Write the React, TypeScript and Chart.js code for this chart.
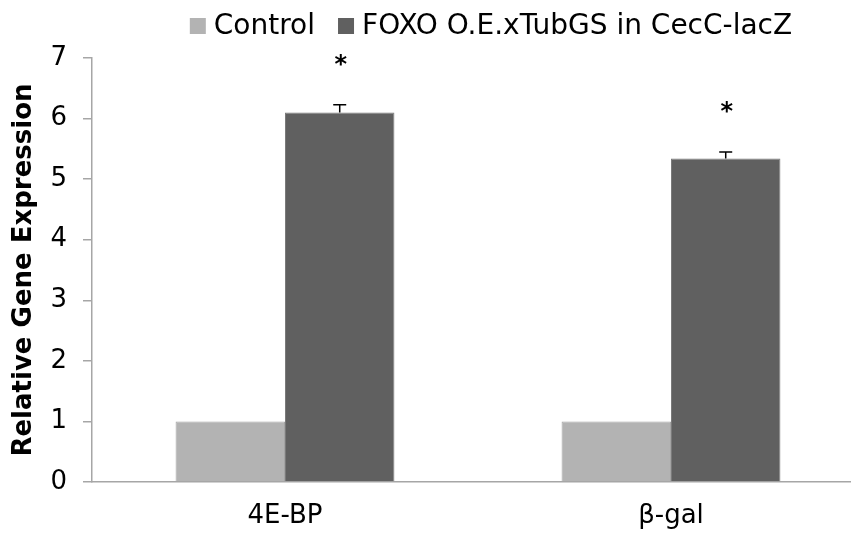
import { useEffect, useRef } from "react";
import { Chart, registerables } from "chart.js";

Chart.register(...registerables);

// Genes measured by qPCR
const genes = ["4E-BP", "β-gal"];
// Series names
const seriesNames = ["Control", "FOXO O.E.xTubGS in CecC-lacZ"];
// Relative expression (control normalised to 1)
const controlExpression = [1, 1];
const foxoExpression = [6.1, 5.34];
// Standard error of the FOXO group (upper bars only)
const foxoError = [0.13, 0.11];
// Significance markers above the FOXO bars
const significance = ["*", "*"];
// Value axis range
const yMin = 0;
const yMax = 7;
const yStep = 1;

const FONT = '"DejaVu Sans", Verdana, sans-serif';
const TEXT = "#000000";
const AXIS = "#a6a6a6";
const LIGHT = "#b3b3b3";
const DARK = "#606060";

// Upper error bars plus significance asterisks on the FOXO series
const errorBarPlugin = {
  id: "errorBars",
  afterDatasetsDraw(chart: any) {
    const { ctx, scales } = chart;
    const meta = chart.getDatasetMeta(1);
    ctx.save();
    meta.data.forEach((bar: any, i: number) => {
      const x = bar.x;
      const yBar = scales.y.getPixelForValue(foxoExpression[i]);
      const yTop = scales.y.getPixelForValue(foxoExpression[i] + foxoError[i]);
      ctx.strokeStyle = "#000";
      ctx.lineWidth = 1.5;
      ctx.beginPath();
      ctx.moveTo(x, yBar);
      ctx.lineTo(x, yTop);
      ctx.moveTo(x - 6.5, yTop);
      ctx.lineTo(x + 6.5, yTop);
      ctx.stroke();

      const mark = significance[i];
      if (mark) {
        ctx.font = `bold 24px ${FONT}`;
        ctx.fillStyle = TEXT;
        ctx.textAlign = "center";
        ctx.textBaseline = "alphabetic";
        const m = ctx.measureText(mark);
        const cy = yTop - 45;
        const base = cy + (m.actualBoundingBoxAscent - m.actualBoundingBoxDescent) / 2;
        ctx.fillText(mark, x + 1, base);
      }
    });
    ctx.restore();
  },
};

// Horizontal legend row across the top
const legendPlugin = {
  id: "topLegend",
  afterDraw(chart: any) {
    const { ctx } = chart;
    const box = 16;
    const gap = 8;
    const itemGap = 23;
    const centerX = 491;
    const boxY = 18;
    ctx.save();
    ctx.font = `28px ${FONT}`;
    const widths = chart.data.datasets.map((d: any) => ctx.measureText(d.label).width);
    const total = widths.reduce((s: number, w: number) => s + box + gap + w, 0) + itemGap * (widths.length - 1);
    let x = centerX - total / 2;
    chart.data.datasets.forEach((d: any, i: number) => {
      ctx.fillStyle = d.backgroundColor;
      ctx.fillRect(x, boxY, box, box);
      ctx.fillStyle = TEXT;
      ctx.textAlign = "left";
      ctx.textBaseline = "alphabetic";
      ctx.fillText(d.label, x + box + gap, 33.5);
      x += box + gap + widths[i] + itemGap;
    });
    ctx.restore();
  },
};

export default function App() {
  const canvasRef = useRef<HTMLCanvasElement | null>(null);

  useEffect(() => {
    if (!canvasRef.current) return;
    Chart.defaults.font.family = FONT;
    const chart = new Chart(canvasRef.current, {
      type: "bar",
      data: {
        labels: genes,
        datasets: [
          {
            label: seriesNames[0],
            data: controlExpression,
            backgroundColor: LIGHT,
            borderColor: "#a4a4a4",
            borderWidth: 1,
          },
          {
            label: seriesNames[1],
            data: foxoExpression,
            backgroundColor: DARK,
            borderColor: "#7a7a7a",
            borderWidth: 1,
          },
        ],
      },
      options: {
        animation: false,
        responsive: true,
        maintainAspectRatio: false,
        layout: { padding: { top: 58, left: 0, right: 0, bottom: 0 } },
        datasets: { bar: { categoryPercentage: 0.567, barPercentage: 1 } },
        plugins: {
          legend: { display: false },
          tooltip: { enabled: false },
        },
        scales: {
          x: {
            grid: { display: false, drawTicks: false },
            border: { display: true, color: AXIS, width: 1.5 },
            ticks: { color: TEXT, padding: 19, font: { size: 26, family: FONT } },
            afterFit: (s: any) => {
              s.height = 54;
            },
          },
          y: {
            min: yMin,
            max: yMax,
            grid: {
              display: true,
              drawOnChartArea: false,
              drawTicks: true,
              tickLength: 9,
              color: AXIS,
              lineWidth: 1.5,
            },
            border: { display: true, color: AXIS, width: 1.5 },
            ticks: { stepSize: yStep, color: TEXT, padding: 16, font: { size: 26, family: FONT } },
            title: {
              display: true,
              text: "Relative Gene Expression",
              color: TEXT,
              font: { size: 26, weight: "bold", family: FONT },
              padding: { top: 9, bottom: 0 },
            },
            afterFit: (s: any) => {
              s.width = 92;
            },
          },
        },
      },
      plugins: [errorBarPlugin, legendPlugin],
    });
    return () => chart.destroy();
  }, []);

  return (
    <div
      style={{
        position: "absolute",
        left: 0,
        top: 0,
        width: 851,
        height: 536,
        overflow: "hidden",
        background: "#fff",
      }}
    >
      <div style={{ position: "relative", width: 864, height: 536 }}>
        <canvas ref={canvasRef} />
      </div>
    </div>
  );
}
